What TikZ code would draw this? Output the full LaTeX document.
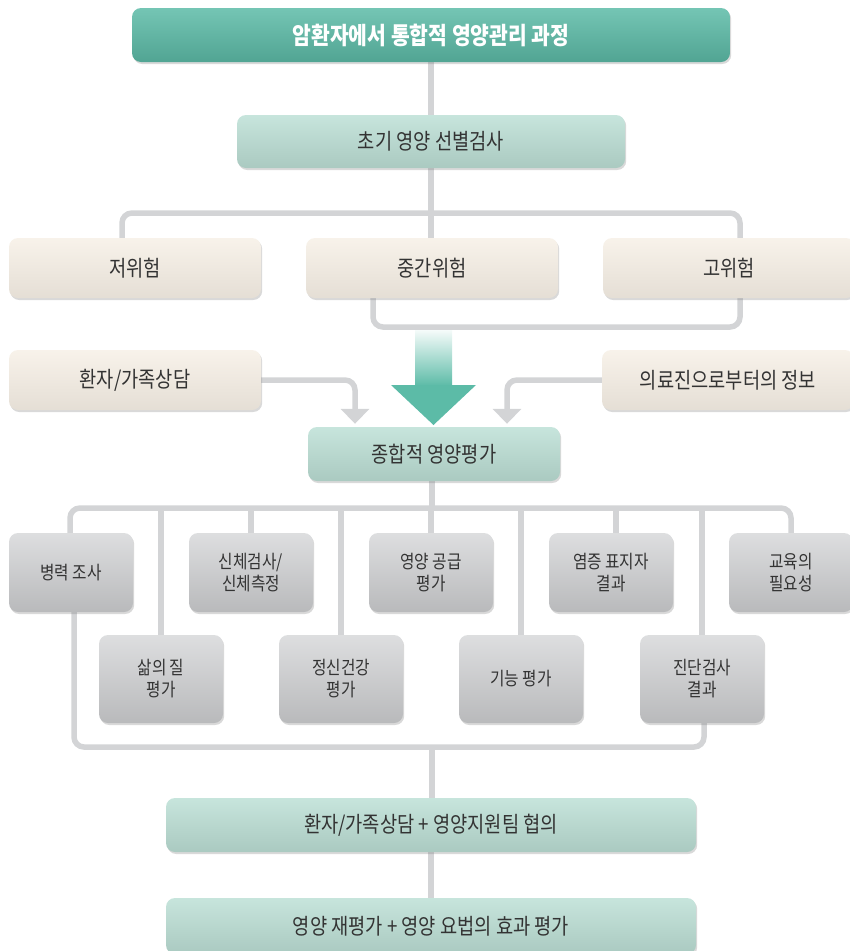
\documentclass[tikz,border=0pt]{standalone}
\usepackage{fontspec}
\setmainfont[FakeStretch=0.85]{Noto Sans CJK KR}
\usetikzlibrary{shadows,arrows.meta,calc}
\definecolor{teal1}{HTML}{5CBBA7}
\definecolor{mint}{HTML}{BDE0D6}
\definecolor{cream}{HTML}{F6EFE5}
\definecolor{grayb}{HTML}{D2D3D5}
\definecolor{connc}{HTML}{D3D4D6}
\definecolor{txt}{HTML}{333333}
\pgfdeclarelayer{bg}
\pgfsetlayers{bg,main}
\begin{document}
\begin{tikzpicture}[x=1pt,y=-1pt,
  box/.style={rounded corners=9pt, text=txt, align=center, inner sep=0pt,
    drop shadow={opacity=0.3, shadow xshift=1.2pt, shadow yshift=-2pt}},
  titlebox/.style={box, minimum width=598pt, minimum height=54pt,
    top color=teal1!85!white, middle color=teal1, bottom color=teal1!88!black,
    text=white, font=\fontsize{24}{28}\selectfont\bfseries},
  mintbox/.style={box, top color=mint!85!white, middle color=mint, bottom color=mint!90!black,
    font=\fontsize{22}{26}\selectfont},
  creambox/.style={box, minimum width=252pt, minimum height=60pt,
    top color=cream!80!white, middle color=cream, bottom color=cream!93!black,
    font=\fontsize{22}{26}\selectfont},
  graybox/.style={box, minimum width=124pt,
    top color=grayb!75!white, middle color=grayb, bottom color=grayb!88!black,
    font=\fontsize{18.5}{22}\selectfont},
  toprow/.style={graybox, minimum height=79pt},
  botrow/.style={graybox, minimum height=88pt},
  cline/.style={draw=connc, line width=5.5pt},
  garrow/.style={cline, rounded corners=10pt, -{Triangle[width=28pt,length=15pt]}}
]
\useasboundingbox (0,0) rectangle (850,951);

% nodes
\node[titlebox] (title) at (431,35) {암환자에서 통합적 영양관리 과정};
\node[mintbox, minimum width=388pt, minimum height=53pt] (screen) at (431,141.5) {초기 영양 선별검사};
\node[creambox] (low) at (135,268) {저위험};
\node[creambox] (mid) at (432,268) {중간위험};
\node[creambox] (high) at (729,268) {고위험};
\node[creambox] (famc) at (135,380) {환자/가족상담};
\node[creambox] (info) at (728,380) {의료진으로부터의 정보};
\node[mintbox, minimum width=252pt, minimum height=54pt] (comp) at (434,454) {종합적 영양평가};

\node[toprow] (hist) at (71,572.5) {병력 조사};
\node[toprow] (phys) at (251,572.5) {신체검사/\\신체측정};
\node[toprow] (supply) at (431,572.5) {영양 공급\\평가};
\node[toprow] (infl) at (611,572.5) {염증 표지자\\결과};
\node[toprow] (edu) at (791,572.5) {교육의\\필요성};

\node[botrow] (qol) at (161,679) {삶의 질\\평가};
\node[botrow] (mental) at (341,679) {정신건강\\평가};
\node[botrow] (func) at (521,679) {기능 평가};
\node[botrow] (diag) at (702,679) {진단검사\\결과};

\node[mintbox, minimum width=530pt, minimum height=54pt] (consult) at (431,825) {환자/가족상담 + 영양지원팀 협의};
\node[mintbox, minimum width=530pt, minimum height=56pt] (reeval) at (431,926) {영양 재평가 + 영양 요법의 효과 평가};

% connectors
\begin{pgfonlayer}{bg}
\coordinate (br1) at (432,213);
\coordinate (br2) at (560,327);
\coordinate (br3) at (432,508);
\coordinate (br4) at (432,747);

\draw[cline] (title.south) -- (screen.north);
\draw[cline] (screen.south) -- (screen.south |- mid.north);
\draw[cline, rounded corners=10pt] ([xshift=-13pt]low.north) |- (br1) -| ([xshift=11pt]high.north);
\draw[cline, rounded corners=10pt] ([xshift=-59pt]mid.south) |- (br2) -| ([xshift=11pt]high.south);

\draw[garrow] (famc.east) -| ([xshift=-79pt,yshift=3pt]comp.north);
\draw[garrow] (info.west) -| ([xshift=73pt,yshift=3pt]comp.north);

\draw[cline] (comp.south -| br3) -- (br3);
\draw[cline, rounded corners=10pt] ([xshift=-1pt]hist.north) |- (br3) -| (edu.north);
\foreach \n in {phys,supply,qol,mental,func,diag}{
  \draw[cline] (\n.north |- br3) -- (\n.north);
}
\draw[cline] ([xshift=5pt]infl.north |- br3) -- ([xshift=5pt]infl.north);

\draw[cline, rounded corners=10pt] ([xshift=3pt]hist.south) |- (br4) -| ([xshift=2pt]diag.south);
\draw[cline] (br4) -- (br4 |- consult.north);
\draw[cline] (consult.south) -- (reeval.north);
\end{pgfonlayer}

% big arrow
\shade[top color=teal1!6!white, bottom color=teal1] (415,330) rectangle (452,386);
\fill[teal1] (391,385) -- (476,385) -- (433.5,425) -- cycle;
\end{tikzpicture}
\end{document}
